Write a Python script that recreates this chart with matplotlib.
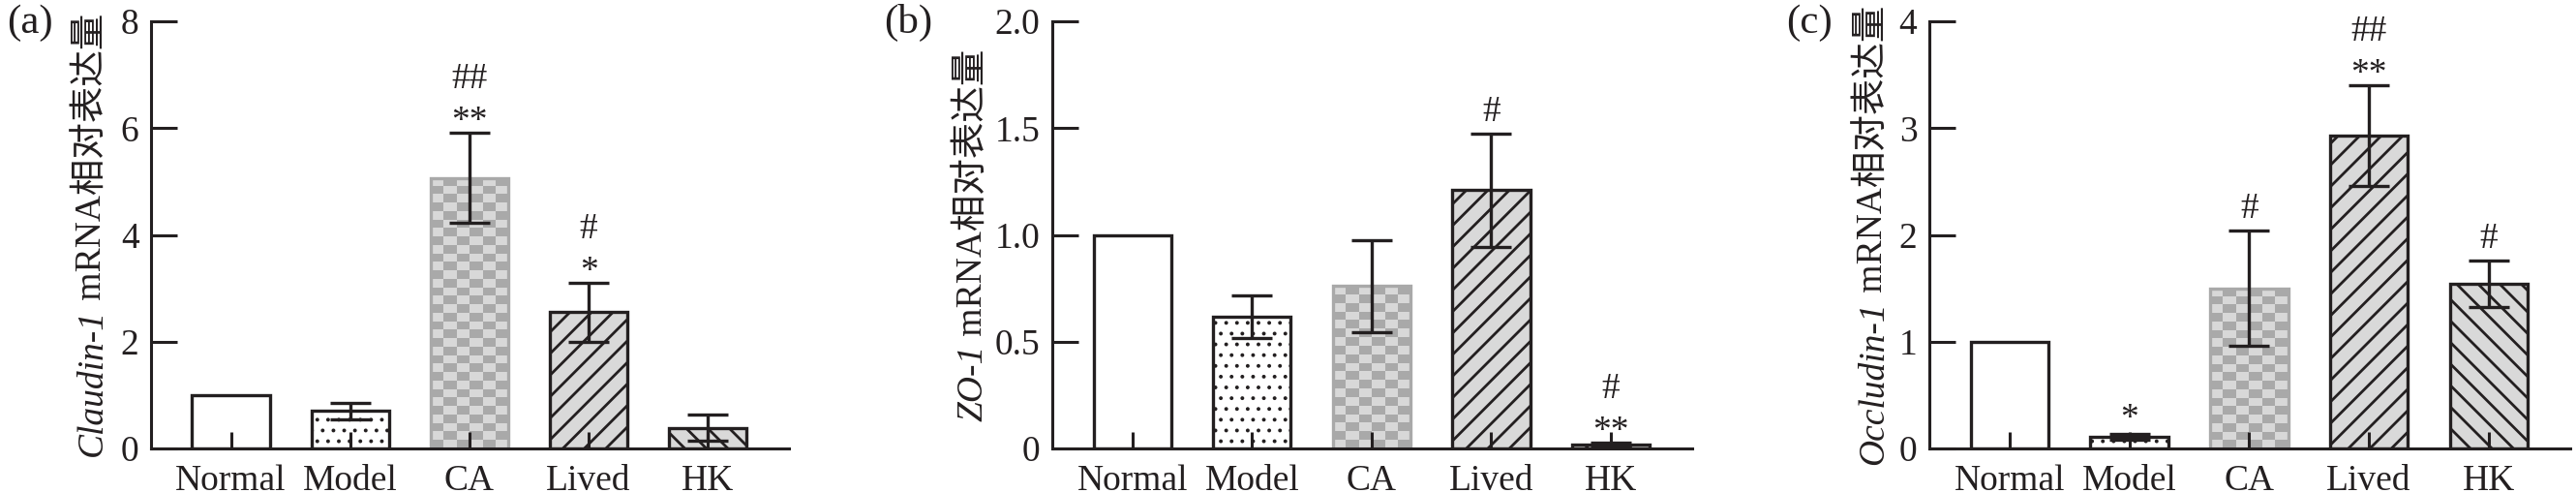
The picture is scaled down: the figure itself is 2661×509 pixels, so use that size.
import numpy as np
import matplotlib
matplotlib.use('Agg')
import matplotlib.pyplot as plt
from matplotlib.colors import ListedColormap

# ---------------- data ----------------
categories = ['Normal', 'Model', 'CA', 'Lived', 'HK']

claudin_mean = [1.00, 0.70, 5.07, 2.55, 0.39]
claudin_err = [0.00, 0.15, 0.84, 0.55, 0.245]
claudin_star = ['', '', '**', '*', '']
claudin_hash = ['', '', '##', '#', '']
claudin_ticks = [0, 2, 4, 6, 8]
claudin_ticklabels = ['0', '2', '4', '6', '8']

zo1_mean = [1.00, 0.615, 0.76, 1.21, 0.018]
zo1_err = [0.00, 0.10, 0.215, 0.265, 0.01]
zo1_star = ['', '', '', '', '**']
zo1_hash = ['', '', '', '#', '#']
zo1_ticks = [0, 0.5, 1.0, 1.5, 2.0]
zo1_ticklabels = ['0', '0.5', '1.0', '1.5', '2.0']

occludin_mean = [1.00, 0.11, 1.50, 2.93, 1.54]
occludin_err = [0.00, 0.03, 0.54, 0.47, 0.22]
occludin_star = ['', '*', '', '**', '']
occludin_hash = ['', '', '#', '##', '#']
occludin_ticks = [0, 1, 2, 3, 4]
occludin_ticklabels = ['0', '1', '2', '3', '4']

# ---------------- style ----------------
plt.rcParams['font.family'] = ['Liberation Serif', 'Noto Sans CJK SC', 'DejaVu Sans']
plt.rcParams['hatch.linewidth'] = 1.0
INK = '#231f20'
CHK_DARK = '#a9a9a9'
CHK_LIGHT = '#d8d8d8'
HATCH_BG = '#d9d9d9'
FS = 13.5
DPI = 200
W, H = 2661, 509

fig = plt.figure(figsize=(W / DPI, H / DPI), dpi=DPI)
fig.patch.set_facecolor('white')

panels = [
    dict(letter='(a)', gene='Claudin-1', mean=claudin_mean, err=claudin_err,
         star=claudin_star, hsh=claudin_hash, ticks=claudin_ticks,
         ticklabels=claudin_ticklabels, px=(156, 815), lab_x=-0.077, letter_px=7),
    dict(letter='(b)', gene='ZO-1', mean=zo1_mean, err=zo1_err,
         star=zo1_star, hsh=zo1_hash, ticks=zo1_ticks,
         ticklabels=zo1_ticklabels, px=(1087, 1748), lab_x=-0.109, letter_px=913),
    dict(letter='(c)', gene='Occludin-1', mean=occludin_mean, err=occludin_err,
         star=occludin_star, hsh=occludin_hash, ticks=occludin_ticks,
         ticklabels=occludin_ticklabels, px=(1993, 2655), lab_x=-0.0725, letter_px=1845),
]

bar_styles = [
    dict(facecolor='white', edgecolor=INK, hatch=None),
    dict(facecolor='white', edgecolor=INK, hatch='...', hatch_lw=0.6),
    dict(facecolor='none', edgecolor=CHK_DARK, hatch=None, checker=True),
    dict(facecolor=HATCH_BG, edgecolor=INK, hatch='///'),
    dict(facecolor=HATCH_BG, edgecolor=INK, hatch='\\\\\\'),
]

AX_BOTTOM_PX, AX_TOP_PX = 463, 22
label_pairs = []

for pnl in panels:
    x0p, x1p = pnl['px']
    ax = fig.add_axes([x0p / W, (H - AX_BOTTOM_PX) / H, (x1p - x0p) / W,
                       (AX_BOTTOM_PX - AX_TOP_PX) / H])
    x = np.arange(len(categories))
    ymax = pnl['ticks'][-1]
    ax.set_xlim(-0.67, len(categories) - 1 + 0.68)
    ax.set_ylim(0, ymax)

    bars = ax.bar(x, pnl['mean'], width=0.65, linewidth=1.2, zorder=1.3)
    for b, st in zip(bars, bar_styles):
        b.set_facecolor(st['facecolor'])
        b.set_edgecolor(st['edgecolor'])
        if st['hatch']:
            b.set_hatch(st['hatch'])
            if 'hatch_lw' in st and hasattr(b, 'set_hatch_linewidth'):
                b.set_hatch_linewidth(st['hatch_lw'])
        if st.get('checker'):
            bx, bw, bh = b.get_x(), b.get_width(), b.get_height()
            p0 = ax.transData.transform((bx, 0))
            p1 = ax.transData.transform((bx + bw, bh))
            ncols = max(1, int(round((p1[0] - p0[0]) / 13.3)))
            nrows = max(1, int(round((p1[1] - p0[1]) / 8.8)))
            pattern = np.indices((nrows, ncols)).sum(axis=0) % 2
            im = ax.imshow(pattern, cmap=ListedColormap([CHK_LIGHT, CHK_DARK]),
                           extent=(bx, bx + bw, 0, bh), origin='upper',
                           interpolation='nearest', aspect='auto', zorder=1.2)
            im.set_clip_path(b)
    ax.set_xlim(-0.67, len(categories) - 1 + 0.68)
    ax.set_ylim(0, ymax)

    for i, (m, e) in enumerate(zip(pnl['mean'], pnl['err'])):
        if e > 0:
            ax.errorbar(x[i], m, yerr=e, fmt='none', ecolor=INK, elinewidth=1.2,
                        capsize=7.5, capthick=1.2, zorder=3)
        top = m + e
        s, h = pnl['star'][i], pnl['hsh'][i]
        if s and h:
            ax.annotate(s, xy=(x[i], top), xytext=(0, 4.0), textcoords='offset points',
                        ha='center', va='center', fontsize=FS, color=INK)
            ax.annotate(h, xy=(x[i], top), xytext=(0, 20.0), textcoords='offset points',
                        ha='center', va='center', fontsize=FS, color=INK)
        elif s:
            ax.annotate(s, xy=(x[i], top), xytext=(0, 5.5), textcoords='offset points',
                        ha='center', va='center', fontsize=FS, color=INK)
        elif h:
            ax.annotate(h, xy=(x[i], top), xytext=(0, 8.0), textcoords='offset points',
                        ha='center', va='center', fontsize=FS, color=INK)

    for side in ('top', 'right'):
        ax.spines[side].set_visible(False)
    for side in ('left', 'bottom'):
        ax.spines[side].set_linewidth(1.1)
        ax.spines[side].set_color(INK)

    ax.set_xticks(x)
    ax.set_xticklabels(categories)
    ax.set_yticks(pnl['ticks'])
    ax.set_yticklabels(pnl['ticklabels'])
    ax.tick_params(axis='x', direction='in', length=6.3, width=1.1, color=INK,
                   labelsize=FS, pad=6, labelcolor=INK)
    ax.tick_params(axis='y', direction='in', length=9.8, width=1.1, color=INK,
                   labelsize=FS, pad=4.5, labelcolor=INK)

    t1 = ax.text(pnl['lab_x'], 0.3, pnl['gene'], transform=ax.transAxes,
                 rotation=90, rotation_mode='anchor', ha='left', va='baseline',
                 style='italic', fontsize=FS, color=INK)
    t2 = ax.annotate(' mRNA相对表达量', xy=(pnl['lab_x'], 1.0),
                     xycoords=('axes fraction', t1), rotation=90,
                     rotation_mode='anchor', ha='left', va='baseline',
                     fontsize=FS, color=INK)
    label_pairs.append((ax, t1, t2))

    fig.text(pnl['letter_px'] / W, 1 - 34 / H, pnl['letter'], fontsize=15.5,
             ha='left', va='baseline', color=INK)

# centre the two-part y labels on their axes
fig.canvas.draw()
for ax, t1, t2 in label_pairs:
    bb1 = t1.get_window_extent()
    bb2 = t2.get_window_extent()
    axbb = ax.get_window_extent()
    total = bb2.y1 - bb1.y0
    desired = (axbb.y0 + axbb.y1) / 2 - total / 2
    delta = desired - bb1.y0
    xpos, ypos = t1.get_position()
    t1.set_position((xpos, ypos + delta / axbb.height))

fig.savefig('out.png', dpi=DPI)
